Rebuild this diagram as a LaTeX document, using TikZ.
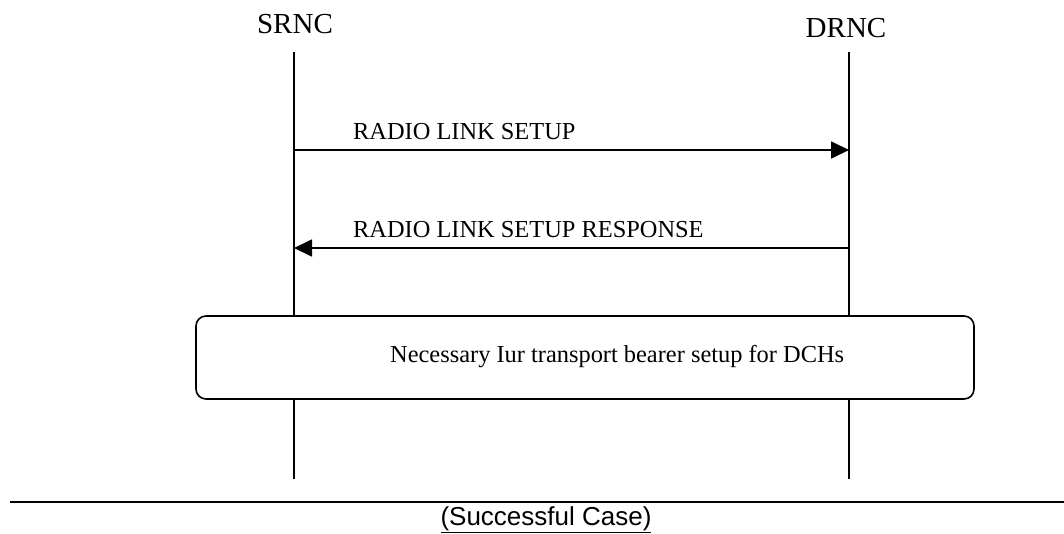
\documentclass[tikz,border=0pt]{standalone}
\usepackage{fontspec}
\setmainfont{Liberation Serif}
\newfontfamily\arialfont{Liberation Sans}
\usetikzlibrary{arrows.meta}
\begin{document}
\begin{tikzpicture}[x=1pt,y=-1pt,
  entity/.style={anchor=base,inner sep=0pt,font=\fontsize{29}{34}\selectfont},
  msglabel/.style={anchor=base west,inner sep=0pt,font=\fontsize{24.4}{29}\selectfont},
  life/.style={line width=1.5pt},
  msg/.style={line width=1.8pt,-{Triangle[length=18pt,width=17pt]}},
  procbox/.style={draw,line width=1.6pt,rounded corners=10pt}]
\useasboundingbox (0,0) rectangle (1064,533);
\node[entity] (srnc) at (295,33) {SRNC};
\node[entity] (drnc) at (846,37) {DRNC};
\coordinate (s1) at (294,52);
\coordinate (s2) at (294,479);
\coordinate (d1) at (849,52);
\coordinate (d2) at (849,479);
\draw[life] (s1) -- (s2);
\draw[life] (d1) -- (d2);
\coordinate (a1s) at (294,150);
\coordinate (a1e) at (849,150);
\draw[msg] (a1s) -- (a1e);
\node[msglabel] (l1) at (353,139) {RADIO LINK SETUP};
\coordinate (a2s) at (849,248);
\coordinate (a2e) at (294,248);
\draw[msg] (a2s) -- (a2e);
\node[msglabel] (l2) at (353,237) {RADIO LINK SETUP RESPONSE};
\draw[procbox,fill=white] (196,316) rectangle (974,399);
\node[msglabel] (bt) at (390,362) {Necessary Iur transport bearer setup for DCHs};
\coordinate (h1) at (10,502);
\coordinate (h2) at (1064,502);
\draw[line width=2pt] (h1) -- (h2);
\node[anchor=base,inner sep=0pt,font=\arialfont\fontsize{26}{30}\selectfont] (cap) at (546,525) {\underline{(Successful Case)}};
\end{tikzpicture}
\end{document}
